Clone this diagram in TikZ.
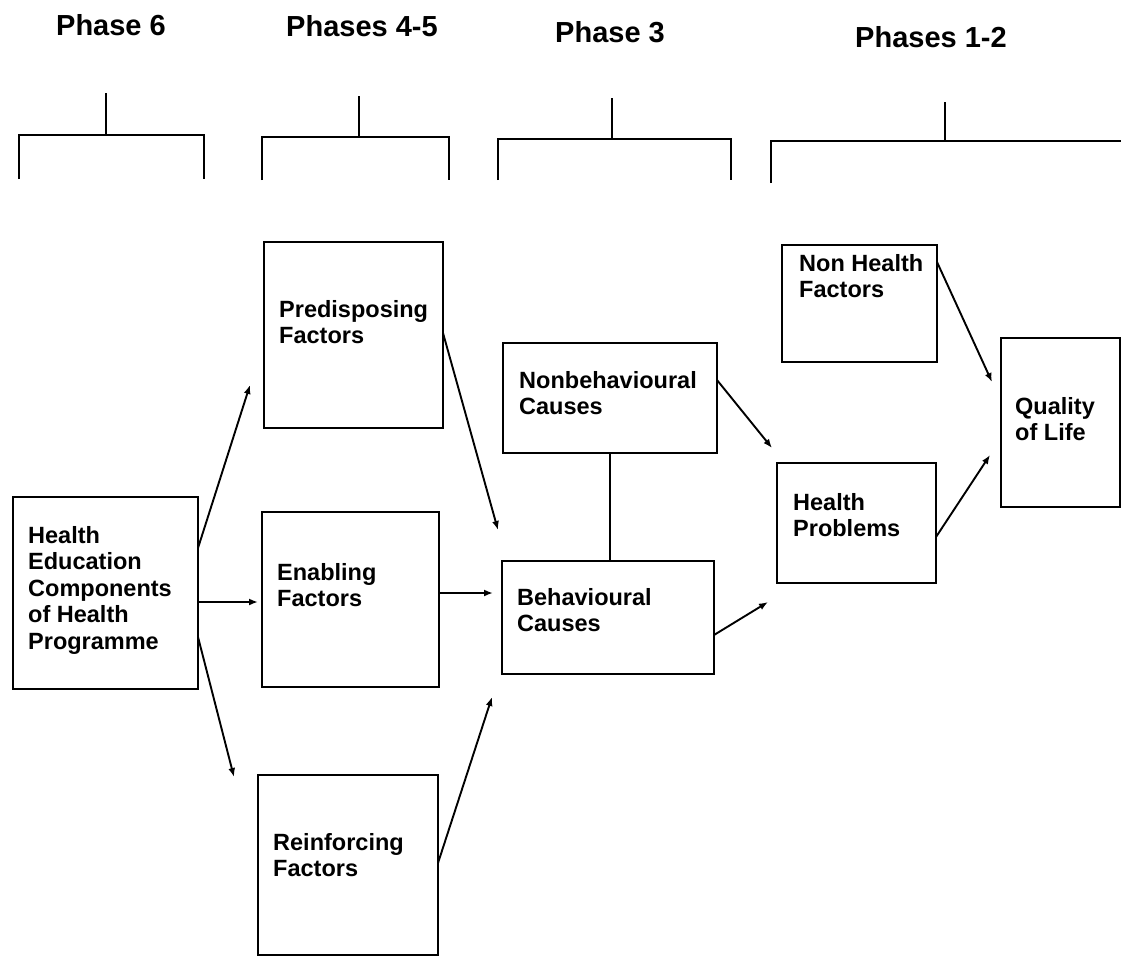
\documentclass[tikz,border=0pt]{standalone}
\usepackage{fontspec}
\setmainfont{Liberation Sans}
\usetikzlibrary{arrows.meta}
\tikzset{
  box/.style={draw, line width=2.6pt, inner sep=0pt, outer sep=0pt},
  boxtext/.style={anchor=north west, inner sep=0pt, align=left,
    font=\bfseries\fontsize{23.5}{26.5}\selectfont},
  phase/.style={anchor=base, inner sep=0pt,
    font=\bfseries\fontsize{29}{32}\selectfont},
  bracket/.style={line width=2.4pt},
  link/.style={line width=1.9pt, -{Latex[length=9pt,width=7pt]}},
  tie/.style={line width=1.9pt}
}
\begin{document}
\begin{tikzpicture}[x=1pt,y=-1pt]
\useasboundingbox (0,0) rectangle (1121,959);

% phase headings
\node[phase] (h6)  at (111,35) {Phase 6};
\node[phase] (h45) at (362,36) {Phases 4-5};
\node[phase] (h3)  at (610,42) {Phase 3};
\node[phase] (h12) at (931,47) {Phases 1-2};

% brackets under the headings
\draw[bracket] (19,179) -- (19,135) -- (204,135) -- (204,179);
\draw[bracket] (106,93) -- (106,135);
\draw[bracket] (262,180) -- (262,137) -- (449,137) -- (449,180);
\draw[bracket] (359,96) -- (359,137);
\draw[bracket] (498,180) -- (498,139) -- (731,139) -- (731,180);
\draw[bracket] (612,98) -- (612,139);
\draw[bracket] (771,183) -- (771,141) -- (1121,141);
\draw[bracket] (945,102) -- (945,141);

% boxes
\node[box, minimum width=185pt, minimum height=192pt] (he)   at (105.5,593) {};
\node[box, minimum width=179pt, minimum height=186pt] (pre)  at (353.5,335) {};
\node[box, minimum width=177pt, minimum height=175pt] (ena)  at (350.5,599.5) {};
\node[box, minimum width=180pt, minimum height=180pt] (rei)  at (348,865) {};
\node[box, minimum width=214pt, minimum height=110pt] (nonb) at (610,398) {};
\node[box, minimum width=212pt, minimum height=113pt] (beh)  at (608,617.5) {};
\node[box, minimum width=155pt, minimum height=117pt] (nonh) at (859.5,303.5) {};
\node[box, minimum width=159pt, minimum height=120pt] (hp)   at (856.5,523) {};
\node[box, minimum width=119pt, minimum height=169pt] (qol)  at (1060.5,422.5) {};

% box labels
\node[boxtext] (the)   at (28,526)  {Health\\Education\\Components\\of Health\\Programme};
\node[boxtext] (tpre)  at (279,300) {Predisposing\\Factors};
\node[boxtext] (tena)  at (277,563) {Enabling\\Factors};
\node[boxtext] (trei)  at (273,833) {Reinforcing\\Factors};
\node[boxtext] (tnonb) at (519,371) {Nonbehavioural\\Causes};
\node[boxtext] (tbeh)  at (517,588) {Behavioural\\Causes};
\node[boxtext] (tnonh) at (799,254) {Non Health\\Factors};
\node[boxtext] (thp)   at (793,493) {Health\\Problems};
\node[boxtext] (tqol)  at (1015,397) {Quality\\of Life};

% arrow tips stop short of the boxes
\coordinate (tA) at (250,385);
\coordinate (tB) at (258,602);
\coordinate (tC) at (234,777);
\coordinate (tD) at (498,530);
\coordinate (tE) at (493,593);
\coordinate (tF) at (492,697);
\coordinate (tG) at (772,448);
\coordinate (tH) at (768,602);
\coordinate (tI) at (992,382);
\coordinate (tJ) at (990,455);

% connectors
\draw[link] ([yshift=45pt]he.east)   -- (tA);
\draw[link] ([yshift=-9pt]he.east)   -- (tB);
\draw[link] ([yshift=-44pt]he.east)  -- (tC);
\draw[link] ([yshift=2pt]pre.east)   -- (tD);
\draw[link] ([yshift=6.5pt]ena.east) -- (tE);
\draw[link] ([yshift=2pt]rei.east)   -- (tF);
\draw[link] ([yshift=18pt]nonb.east) -- (tG);
\draw[link] ([yshift=-17.5pt]beh.east) -- (tH);
\draw[link] ([yshift=41.5pt]nonh.east) -- (tI);
\draw[link] ([yshift=-14pt]hp.east)  -- (tJ);
\draw[tie] (nonb.south) -- (nonb.south |- beh.north);
\end{tikzpicture}
\end{document}
